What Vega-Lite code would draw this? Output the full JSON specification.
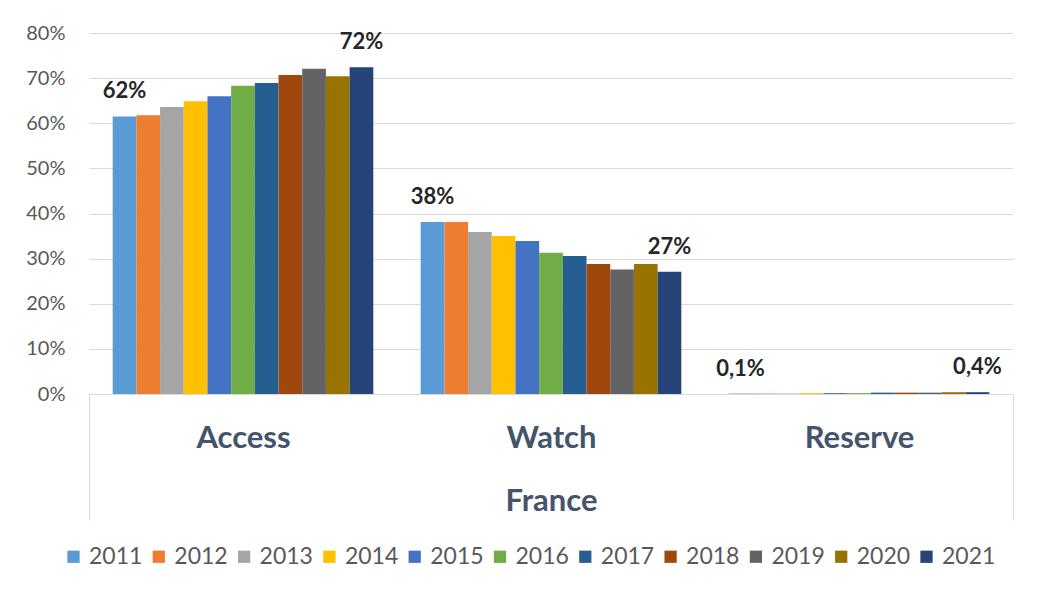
{
  "$schema": "https://vega.github.io/schema/vega-lite/v6.json",
  "autosize": "none",
  "width": 924,
  "height": 361,
  "padding": {"left": 89, "top": 33, "right": 36, "bottom": 207},
  "background": "white",
  "config": {"view": {"stroke": null}, "font": "Lato"},
  "data": {
    "values": [
      {"category": "Access", "year": "2011", "value": 0.615, "label": "62%"},
      {"category": "Access", "year": "2012", "value": 0.618, "label": ""},
      {"category": "Access", "year": "2013", "value": 0.636, "label": ""},
      {"category": "Access", "year": "2014", "value": 0.649, "label": ""},
      {"category": "Access", "year": "2015", "value": 0.660, "label": ""},
      {"category": "Access", "year": "2016", "value": 0.683, "label": ""},
      {"category": "Access", "year": "2017", "value": 0.689, "label": ""},
      {"category": "Access", "year": "2018", "value": 0.707, "label": ""},
      {"category": "Access", "year": "2019", "value": 0.721, "label": ""},
      {"category": "Access", "year": "2020", "value": 0.704, "label": ""},
      {"category": "Access", "year": "2021", "value": 0.724, "label": "72%"},
      {"category": "Watch", "year": "2011", "value": 0.381, "label": "38%"},
      {"category": "Watch", "year": "2012", "value": 0.381, "label": ""},
      {"category": "Watch", "year": "2013", "value": 0.359, "label": ""},
      {"category": "Watch", "year": "2014", "value": 0.350, "label": ""},
      {"category": "Watch", "year": "2015", "value": 0.339, "label": ""},
      {"category": "Watch", "year": "2016", "value": 0.313, "label": ""},
      {"category": "Watch", "year": "2017", "value": 0.306, "label": ""},
      {"category": "Watch", "year": "2018", "value": 0.288, "label": ""},
      {"category": "Watch", "year": "2019", "value": 0.276, "label": ""},
      {"category": "Watch", "year": "2020", "value": 0.288, "label": ""},
      {"category": "Watch", "year": "2021", "value": 0.271, "label": "27%"},
      {"category": "Reserve", "year": "2011", "value": 0.001, "label": "0,1%"},
      {"category": "Reserve", "year": "2012", "value": 0.001, "label": ""},
      {"category": "Reserve", "year": "2013", "value": 0.001, "label": ""},
      {"category": "Reserve", "year": "2014", "value": 0.002, "label": ""},
      {"category": "Reserve", "year": "2015", "value": 0.002, "label": ""},
      {"category": "Reserve", "year": "2016", "value": 0.002, "label": ""},
      {"category": "Reserve", "year": "2017", "value": 0.003, "label": ""},
      {"category": "Reserve", "year": "2018", "value": 0.003, "label": ""},
      {"category": "Reserve", "year": "2019", "value": 0.003, "label": ""},
      {"category": "Reserve", "year": "2020", "value": 0.004, "label": ""},
      {"category": "Reserve", "year": "2021", "value": 0.004, "label": "0,4%"}
    ]
  },
  "encoding": {
    "x": {
      "field": "category",
      "type": "nominal",
      "sort": ["Access", "Watch", "Reserve"],
      "scale": {"paddingInner": 0, "paddingOuter": 0},
      "title": "France",
      "axis": {
        "grid": false,
        "domain": true,
        "domainColor": "#D9D9D9",
        "domainWidth": 1,
        "ticks": true,
        "tickBand": "extent",
        "tickSize": 126,
        "tickWidth": 1,
        "tickColor": {"condition": {"test": "datum.extra || datum.value === 'Reserve'", "value": "#D9D9D9"}, "value": "transparent"},
        "labelAngle": 0,
        "labelFontSize": 31,
        "labelFontWeight": "bold",
        "labelColor": "#44546A",
        "labelBaseline": "alphabetic",
        "labelPadding": -73,
        "titleFontSize": 31,
        "titleFontWeight": "bold",
        "titleColor": "#44546A",
        "titleBaseline": "alphabetic",
        "titleY": 116
      }
    },
    "xOffset": {
      "field": "year",
      "type": "nominal",
      "scale": {"paddingInner": 0, "paddingOuter": 1.08}
    },
    "y": {
      "field": "value",
      "type": "quantitative",
      "scale": {"domain": [0, 0.8], "nice": false},
      "title": null,
      "axis": {
        "values": [0, 0.1, 0.2, 0.3, 0.4, 0.5, 0.6, 0.7, 0.8],
        "format": ".0%",
        "domain": false,
        "ticks": false,
        "grid": true,
        "gridColor": "#D9D9D9",
        "gridWidth": 1,
        "labelFontSize": 20,
        "labelColor": "#595959",
        "labelPadding": 24
      }
    }
  },
  "layer": [
    {
      "mark": {"type": "bar"},
      "encoding": {
        "color": {
          "field": "year",
          "type": "nominal",
          "scale": {
            "domain": ["2011", "2012", "2013", "2014", "2015", "2016", "2017", "2018", "2019", "2020", "2021"],
            "range": ["#5B9BD5", "#ED7D31", "#A5A5A5", "#FFC000", "#4472C4", "#70AD47", "#255E91", "#9E480E", "#636363", "#997300", "#264478"]
          },
          "legend": {
            "title": null,
            "orient": "none",
            "legendX": -27,
            "legendY": 512,
            "direction": "horizontal",
            "columns": 11,
            "columnPadding": 4.3,
            "padding": 0,
            "symbolType": "square",
            "symbolSize": 150,
            "symbolStrokeWidth": 0,
            "symbolOpacity": 1,
            "labelOffset": 4,
            "labelFontSize": 23,
            "labelColor": "#595959"
          }
        }
      }
    },
    {
      "mark": {"type": "text", "baseline": "alphabetic", "dy": -18, "fontSize": 22, "fontWeight": "bold", "color": "#262626"},
      "encoding": {"text": {"field": "label"}}
    }
  ]
}
